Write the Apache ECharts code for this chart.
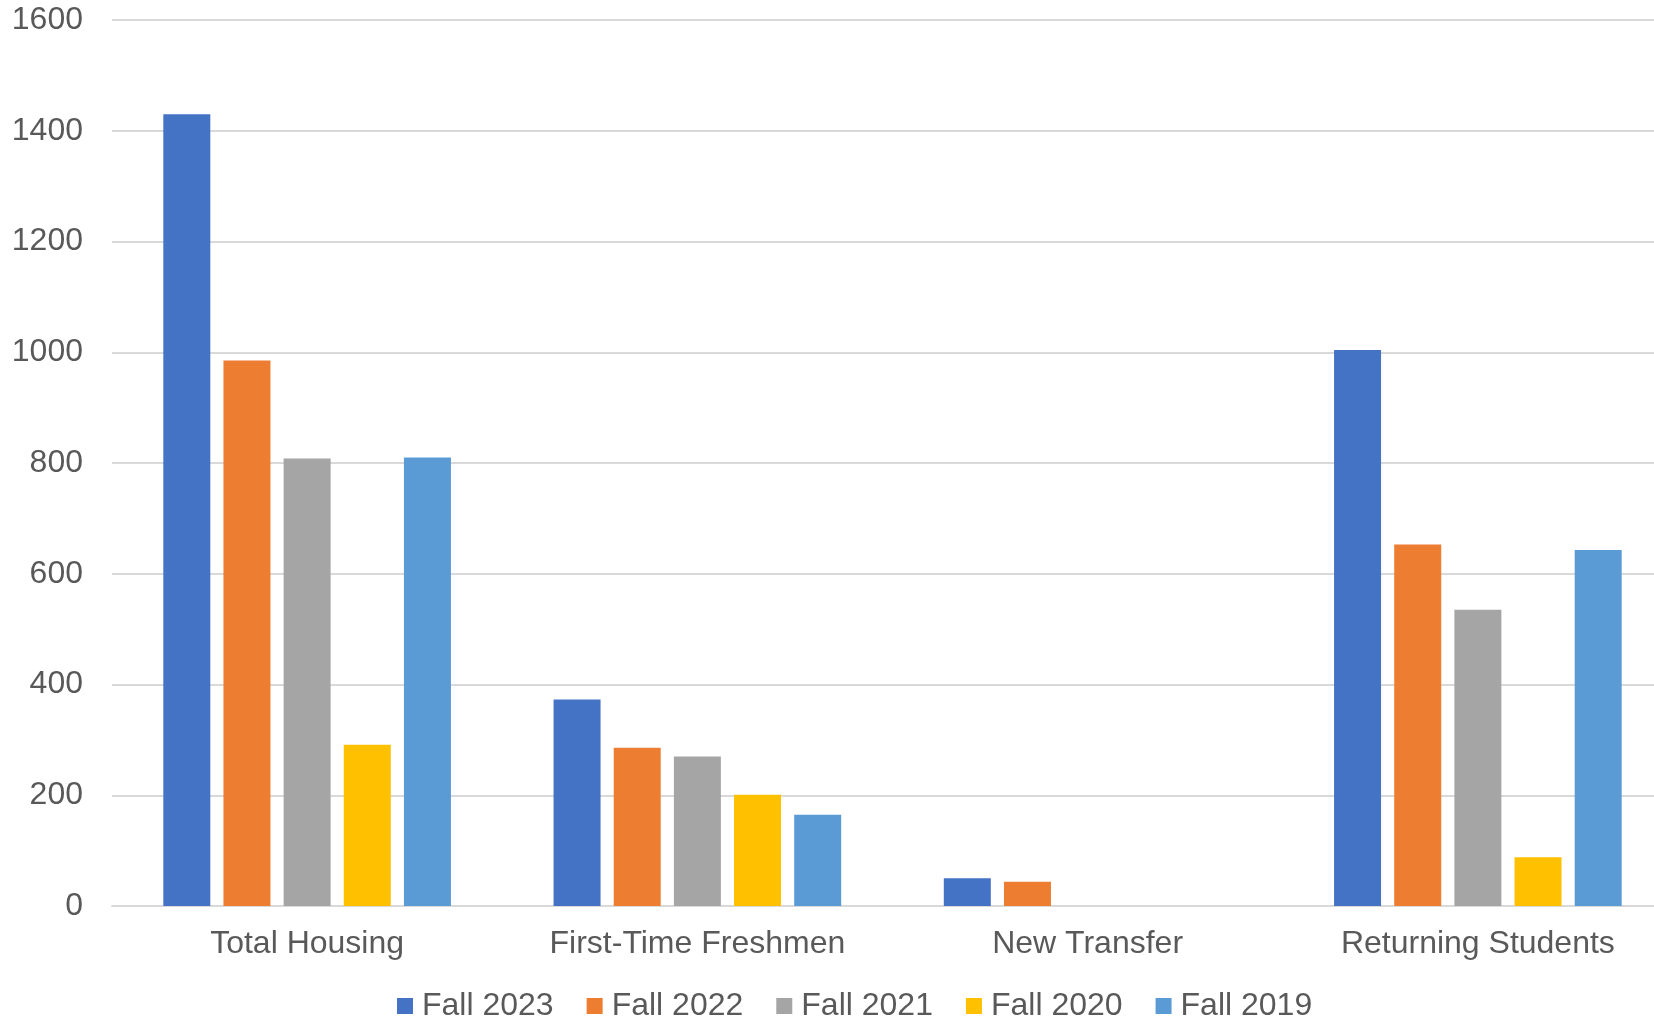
<!DOCTYPE html>
<html>
<head>
<meta charset="utf-8">
<script src="https://cdn.jsdelivr.net/npm/echarts@6/dist/echarts.min.js"></script>
<style>
html,body{margin:0;padding:0;background:#fff;overflow:hidden;width:1654px;height:1016px;}
#chart{width:1673px;height:1016px;}
</style>
</head>
<body>
<div id="chart"></div>
<script>
const categories = ['Total Housing', 'First-Time Freshmen', 'New Transfer', 'Returning Students'];
const seriesNames = ['Fall 2023', 'Fall 2022', 'Fall 2021', 'Fall 2020', 'Fall 2019'];
const fall2023 = [1430, 373, 50, 1004];
const fall2022 = [985, 286, 44, 653];
const fall2021 = [808, 270, null, 535];
const fall2020 = [291, 201, null, 88];
const fall2019 = [810, 165, null, 643];
const yTicks = { min: 0, max: 1600, interval: 200 };

const colors = ['#4472C4', '#ED7D31', '#A5A5A5', '#FFC000', '#5B9BD5'];
const seriesData = [fall2023, fall2022, fall2021, fall2020, fall2019];
const FONT = '"Liberation Sans", Arial, sans-serif';
const TXT = '#595959';

const chart = echarts.init(document.getElementById('chart'), null, { renderer: 'canvas' });
chart.setOption({
  animation: false,
  backgroundColor: '#ffffff',
  color: colors,
  grid: { left: 112, top: 20, right: 0, height: 886, containLabel: false },
  legend: {
    data: seriesNames,
    left: 392,
    top: 985,
    icon: 'rect',
    itemWidth: 16,
    itemHeight: 16,
    itemGap: 33,
    textStyle: { fontFamily: FONT, fontSize: 32, color: TXT, padding: [0, 0, 0, 4] }
  },
  xAxis: {
    type: 'category',
    data: categories,
    axisLine: { show: true, lineStyle: { color: '#d9d9d9', width: 2 } },
    axisTick: { show: false },
    axisLabel: { fontFamily: FONT, fontSize: 32, color: TXT, margin: 22, interval: 0 },
    splitLine: { show: false }
  },
  yAxis: {
    type: 'value',
    min: yTicks.min,
    max: yTicks.max,
    interval: yTicks.interval,
    axisLine: { show: false },
    axisTick: { show: false },
    axisLabel: { fontFamily: FONT, fontSize: 32, color: TXT, margin: 29, formatter: v => String(v) },
    splitLine: { show: true, lineStyle: { color: '#d9d9d9', width: 2 } }
  },
  series: seriesNames.map((name, i) => ({
    name: name,
    type: 'bar',
    data: seriesData[i],
    barWidth: 47,
    barGap: '28%',
    itemStyle: { color: colors[i] }
  }))
});
</script>
</body>
</html>
